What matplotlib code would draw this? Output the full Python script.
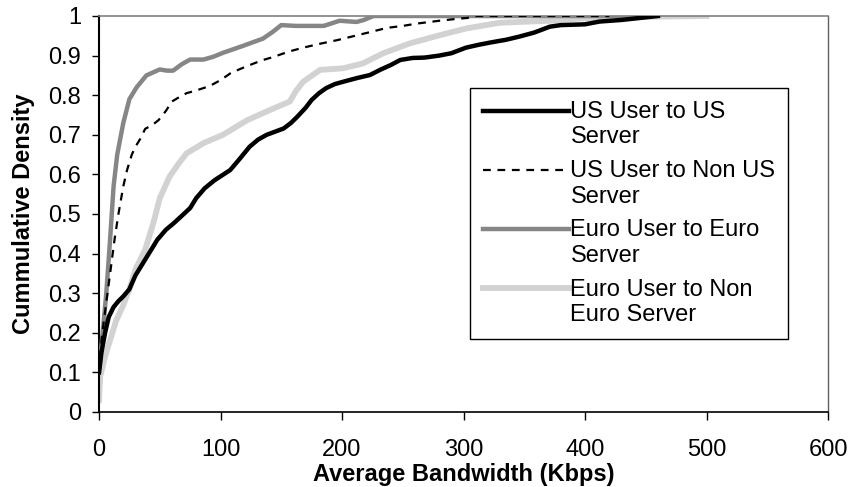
import matplotlib
matplotlib.use('Agg')
import matplotlib.pyplot as plt
import numpy as np

plt.rcParams['font.family'] = ['Liberation Sans', 'DejaVu Sans']

# series (x: Kbps, y: cumulative fraction)
us_us_x = [0, 2, 5, 8, 12, 16, 20, 25, 30, 36,
           42, 48, 55, 62, 68, 75, 80, 87, 95, 108,
           116, 124, 131, 138, 145, 152, 158, 163, 170, 175,
           181, 187, 194, 201, 212, 223, 232, 240, 248, 258,
           268, 280, 290, 302, 312, 322, 335, 346, 358, 365,
           371, 380, 390, 400, 412, 430, 445, 460]
us_us_y = [0.10, 0.15, 0.20, 0.24, 0.265, 0.28, 0.292, 0.31, 0.345, 0.375,
           0.405, 0.435, 0.46, 0.478, 0.495, 0.515, 0.54, 0.565, 0.585, 0.611,
           0.64, 0.67, 0.688, 0.70, 0.708, 0.716, 0.73, 0.745, 0.768, 0.788,
           0.805, 0.818, 0.828, 0.834, 0.843, 0.851, 0.865, 0.876, 0.889, 0.894,
           0.895, 0.90, 0.906, 0.92, 0.927, 0.933, 0.94, 0.948, 0.958, 0.966,
           0.973, 0.977, 0.978, 0.979, 0.986, 0.99, 0.995, 1.0]

us_non_x = [0, 2, 4, 7, 10, 13, 16, 20, 23, 27,
            30, 34, 38, 44, 49, 55, 60, 66, 72, 80,
            91, 100, 108, 116, 124, 134, 144, 156, 168, 182,
            196, 208, 220, 237, 250, 262, 280, 295, 303, 310,
            350, 420]
us_non_y = [0.10, 0.18, 0.23, 0.30, 0.37, 0.44, 0.50, 0.57, 0.61, 0.65,
            0.67, 0.69, 0.715, 0.725, 0.737, 0.76, 0.784, 0.795, 0.805, 0.812,
            0.823, 0.838, 0.855, 0.866, 0.876, 0.888, 0.897, 0.91, 0.92, 0.93,
            0.939, 0.948, 0.957, 0.97, 0.975, 0.981, 0.988, 0.993, 0.995, 1.0,
            1.0, 1.0]

eu_eu_x = [0, 3, 6, 9, 12, 15, 20, 25, 31, 39,
           50, 56, 61, 68, 75, 86, 94, 102, 118, 135,
           143, 150, 162, 185, 198, 212, 218, 226, 300, 450]
eu_eu_y = [0.10, 0.20, 0.30, 0.43, 0.57, 0.65, 0.73, 0.79, 0.82, 0.85,
           0.865, 0.862, 0.862, 0.878, 0.89, 0.89, 0.897, 0.907, 0.924, 0.943,
           0.96, 0.977, 0.975, 0.975, 0.988, 0.985, 0.99, 1.0, 1.0, 1.0]

eu_non_x = [0, 1, 5, 9, 14, 20, 25, 30, 38, 45,
            50, 58, 65, 72, 86, 102, 122, 141, 157, 162,
            168, 182, 201, 217, 234, 256, 281, 303, 330, 371,
            398, 450, 500]
eu_non_y = [0.03, 0.09, 0.14, 0.18, 0.23, 0.27, 0.31, 0.36, 0.41, 0.48,
            0.54, 0.594, 0.625, 0.653, 0.679, 0.70, 0.737, 0.763, 0.784, 0.81,
            0.834, 0.864, 0.868, 0.88, 0.906, 0.931, 0.952, 0.969, 0.983, 0.988,
            0.994, 0.998, 1.0]

x_ticks = [0, 100, 200, 300, 400, 500, 600]
y_ticks = [0, 0.1, 0.2, 0.3, 0.4, 0.5, 0.6, 0.7, 0.8, 0.9, 1]
y_tick_labels = ['0', '0.1', '0.2', '0.3', '0.4', '0.5', '0.6', '0.7', '0.8', '0.9', '1']


def main():
    fig = plt.figure(figsize=(8.51, 4.87), dpi=100)
    ax = fig.add_axes([99 / 851, 75 / 487, 729 / 851, 396 / 487])

    l1, = ax.plot(us_us_x, us_us_y, color='black', lw=3.2, zorder=4,
                  label='US User to US\nServer')
    l2, = ax.plot(us_non_x, us_non_y, color='black', lw=1.6, ls=(0, (3.5, 3)),
                  zorder=5, label='US User to Non US\nServer')
    l3, = ax.plot(eu_eu_x, eu_eu_y, color='#868686', lw=3.2, zorder=3,
                  label='Euro User to Euro\nServer')
    l4, = ax.plot(eu_non_x, eu_non_y, color='#d2d2d2', lw=4.2, zorder=2,
                  label='Euro User to Non\nEuro Server')

    ax.set_xlim(0, 600)
    ax.set_ylim(0, 1)
    ax.set_xticks(x_ticks)
    ax.set_yticks(y_ticks)
    ax.set_yticklabels(y_tick_labels)
    ax.tick_params(axis='x', labelsize=17, length=6, width=1, pad=13.5, direction='out')
    ax.tick_params(axis='y', labelsize=17, length=5, width=1, pad=8, direction='out')

    ax.spines['left'].set_linewidth(1.5)
    ax.spines['bottom'].set_linewidth(1.2)
    ax.spines['top'].set_color('#808080')
    ax.spines['right'].set_color('#606060')
    ax.spines['top'].set_linewidth(1.2)
    ax.spines['right'].set_linewidth(1.0)

    ax.set_xlabel('Average Bandwidth (Kbps)', fontsize=17, fontweight='bold')
    ax.set_ylabel('Cummulative Density', fontsize=17, fontweight='bold')
    ax.xaxis.set_label_coords(0.5, -0.13)
    ax.yaxis.set_label_coords(-0.088, 0.5)

    leg = ax.legend(handles=[l1, l2, l3, l4], loc='upper left',
                    bbox_to_anchor=(0.509, 0.818), fontsize=17,
                    frameon=True, fancybox=False, framealpha=1,
                    edgecolor='black', handlelength=3.65, handletextpad=0.05,
                    labelspacing=0.5, borderpad=0.55, borderaxespad=0)
    leg.get_frame().set_linewidth(1.0)
    # Excel puts the legend sample next to the first line of a wrapped label
    for line in leg.get_lines():
        line.set_ydata(np.asarray(line.get_ydata()) + 10.2)

    fig.savefig('out.png', dpi=100)


if __name__ == '__main__':
    main()
